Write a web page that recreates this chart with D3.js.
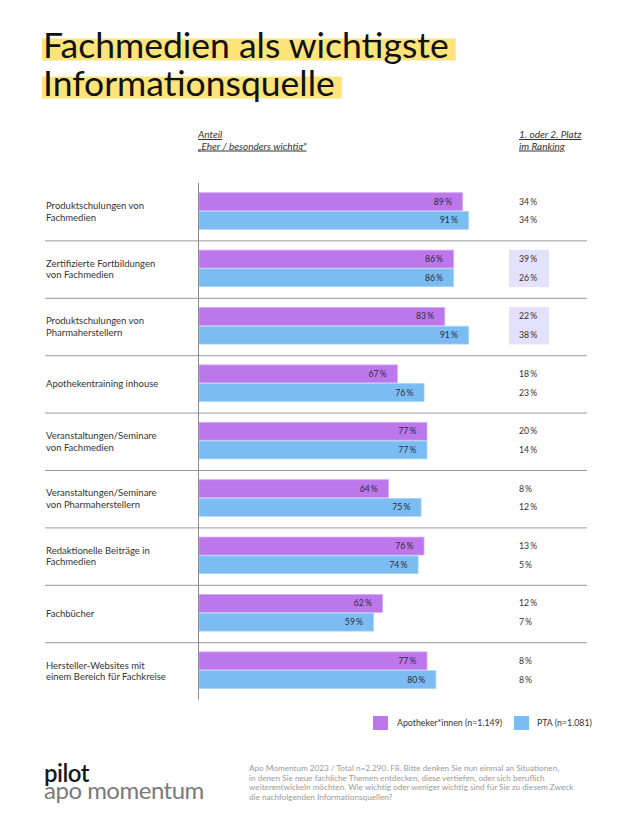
<!DOCTYPE html>
<html>
<head>
<meta charset="utf-8">
<script src="https://cdn.jsdelivr.net/npm/d3@7"></script>
<style>
  body { margin: 0; background: #fff; }
  svg text { font-family: Lato, "Noto Sans", sans-serif; }
</style>
</head>
<body>
<div id="chart-area"></div>
<script>
const categories = [
  ['Produktschulungen von', 'Fachmedien'],
  ['Zertifizierte Fortbildungen', 'von Fachmedien'],
  ['Produktschulungen von', 'Pharmaherstellern'],
  ['Apothekentraining inhouse'],
  ['Veranstaltungen/Seminare', 'von Fachmedien'],
  ['Veranstaltungen/Seminare', 'von Pharmaherstellern'],
  ['Redaktionelle Beiträge in', 'Fachmedien'],
  ['Fachbücher'],
  ['Hersteller-Websites mit', 'einem Bereich für Fachkreise']
];
const seriesNames = ['Apotheker*innen (n=1.149)', 'PTA (n=1.081)'];
const apothekerValues = [89, 86, 83, 67, 77, 64, 76, 62, 77];
const ptaValues = [91, 86, 91, 76, 77, 75, 74, 59, 80];
const apothekerRanking = [34, 39, 22, 18, 20, 8, 13, 12, 8];
const ptaRanking = [34, 26, 38, 23, 14, 12, 5, 7, 8];
const highlightedRows = [1, 2];
const titleLines = ['Fachmedien als wichtigste', 'Informationsquelle'];
const footnoteLines = [
  'Apo Momentum 2023 / Total n=2.290. F8. Bitte denken Sie nun einmal an Situationen,',
  'in denen Sie neue fachliche Themen entdecken, diese vertiefen, oder sich beruflich',
  'weiterentwickeln möchten. Wie wichtig oder weniger wichtig sind für Sie zu diesem Zweck',
  'die nachfolgenden Informationsquellen?'
];

const chartSize = { width: 630, height: 839 };
const colors = ['#bd77ec', '#7bbcf3'];
const strokes = ['#d4a9f4', '#a9d4f8'];
const pct = v => `${v}\u2009%`;

const rows = categories.map((lines, i) => ({
  lines, i,
  values: [apothekerValues[i], ptaValues[i]],
  ranking: [apothekerRanking[i], ptaRanking[i]]
}));

const svg = d3.select('#chart-area').append('svg')
  .attr('width', chartSize.width)
  .attr('height', chartSize.height);

// title with marker highlight behind each line
const titleG = svg.append('g').attr('class', 'title');
const hlG = titleG.append('g');
const title = titleG.append('text')
  .attr('x', 43).attr('y', 57.5)
  .attr('font-size', 35.5).attr('fill', '#111');
titleLines.forEach((line, i) => {
  const baseline = 57.5 + i * 38;
  const ts = title.append('tspan').attr('x', 43).attr('y', baseline).text(line);
  const w = ts.node().getComputedTextLength();
  hlG.append('rect').attr('fill', '#fde478')
    .attr('x', 42).attr('y', baseline - 19).attr('width', w + 8).attr('height', 22);
});

const x = d3.scaleLinear().domain([0, 100]).range([199, 495.6]);
const y = d3.scaleBand().domain(d3.range(categories.length)).range([183, 699.6]);
const ySub = d3.scaleBand().domain([0, 1]).range([9.3, 46.7]);

// column headers
const header = (xPos, lines) => {
  const t = svg.append('text').attr('x', xPos).attr('y', 138)
    .attr('font-size', 10).attr('font-style', 'italic').attr('fill', '#333')
    .attr('text-decoration', 'underline');
  lines.forEach((l, i) => t.append('tspan').attr('x', xPos).attr('dy', i ? 11.5 : 0).text(l));
};
header(198, ['Anteil', '„Eher / besonders wichtig"']);
header(519, ['1. oder 2. Platz', 'im Ranking']);

// separators
svg.append('g').selectAll('line')
  .data(d3.range(1, categories.length))
  .join('line')
  .attr('x1', 45).attr('x2', 587)
  .attr('y1', i => y(i) + 0.5).attr('y2', i => y(i) + 0.5)
  .attr('stroke', '#9a9a9a').attr('stroke-width', 1);

// ranking highlight boxes
svg.append('g').selectAll('rect')
  .data(highlightedRows)
  .join('rect')
  .attr('x', 509).attr('width', 40)
  .attr('y', i => y(i) + ySub(0))
  .attr('height', ySub.bandwidth() * 2)
  .attr('fill', '#e3e1fb');

const rowG = svg.append('g').selectAll('g')
  .data(rows)
  .join('g')
  .attr('transform', d => `translate(0,${y(d.i)})`);

rowG.append('text')
  .attr('x', 46)
  .attr('font-size', 9.5).attr('fill', '#333')
  .each(function (d) {
    const t = d3.select(this);
    const top = y.bandwidth() / 2 + 3.5 - (d.lines.length - 1) * 5.75;
    d.lines.forEach((l, j) => t.append('tspan').attr('x', 46).attr('y', top + j * 11.5).text(l));
  });

const barG = rowG.selectAll('g.bar')
  .data(d => d.values.map((v, s) => ({ v, s, r: d.ranking[s] })))
  .join('g').attr('class', 'bar');

barG.append('rect')
  .attr('x', x(0))
  .attr('y', d => ySub(d.s) + 0.4)
  .attr('width', d => x(d.v) - x(0) - 0.4)
  .attr('height', ySub.bandwidth() - 0.8)
  .attr('fill', d => colors[d.s])
  .attr('stroke', d => strokes[d.s])
  .attr('stroke-width', 0.8);

barG.append('text')
  .attr('x', d => x(d.v) - 11)
  .attr('y', d => ySub(d.s) + ySub.bandwidth() / 2 + 3)
  .attr('text-anchor', 'end')
  .attr('font-size', 8.7).attr('fill', '#2b2b3a')
  .text(d => pct(d.v));

barG.append('text')
  .attr('x', 519)
  .attr('y', d => ySub(d.s) + ySub.bandwidth() / 2 + 3)
  .attr('font-size', 8.7).attr('fill', '#333')
  .text(d => pct(d.r));

// axis line
svg.append('line')
  .attr('x1', x(0) - 0.5).attr('x2', x(0) - 0.5)
  .attr('y1', y.range()[0]).attr('y2', y.range()[1])
  .attr('stroke', '#8a8a8a').attr('stroke-width', 1);

// legend
const legendX = [373, 514];
const legend = svg.append('g').selectAll('g')
  .data(seriesNames)
  .join('g')
  .attr('transform', (d, i) => `translate(${legendX[i]},716)`);
legend.append('rect').attr('width', 15).attr('height', 14).attr('fill', (d, i) => colors[i]);
legend.append('text').attr('x', (d, i) => i ? 23 : 24).attr('y', 10)
  .attr('font-size', 8.8).attr('fill', '#333').text(d => d);

// logo, two lines in one text element
const logo = svg.append('text').attr('x', 44).attr('y', 782)
  .attr('font-size', 24).attr('letter-spacing', -0.5);
logo.append('tspan').attr('x', 44).attr('font-weight', 600).attr('fill', '#1a1a1a').text('pilot');
logo.append('tspan').attr('x', 44).attr('dy', 17).attr('fill', '#7a7a7a').text('apo momentum');

// footnote
svg.append('g').selectAll('text')
  .data(footnoteLines)
  .join('text')
  .attr('x', 249).attr('y', (d, i) => 771 + i * 9.6)
  .attr('font-size', 8.2).attr('fill', '#9a9a9a')
  .text(d => d);
</script>
</body>
</html>
